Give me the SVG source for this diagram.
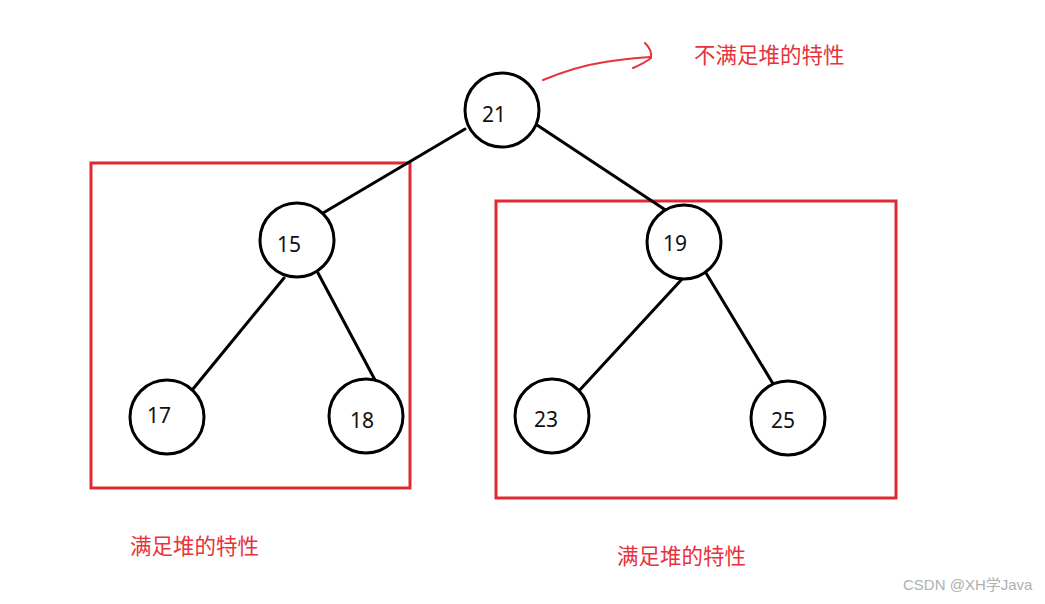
<svg xmlns="http://www.w3.org/2000/svg" width="1045" height="604" viewBox="0 0 1045 604">
<style>
.node circle{fill:#fff;stroke:#000;stroke-width:3}
.node text{font-family:"Noto Sans","Liberation Sans",sans-serif;font-size:21px;fill:#111}
.edge{stroke:#000;stroke-width:3;fill:none;stroke-linecap:round}
.box{fill:none;stroke:#e02a33;stroke-width:3}
.lbl{font-family:"Noto Sans CJK SC",sans-serif;font-size:21.5px;fill:#e8323c}
.wm{font-family:"Liberation Sans","Noto Sans CJK SC",sans-serif;font-size:15px;fill:#b0b0b0}
</style>
<rect width="1045" height="604" fill="#fff"/>
<g id="groups">
<rect class="box" x="91" y="163" width="319" height="325"/>
<rect class="box" x="496" y="201" width="400" height="297"/>
</g>
<g id="connectors">
<line class="edge" x1="465" y1="129" x2="323" y2="213"/>
<line class="edge" x1="537" y1="125" x2="667" y2="211"/>
<line class="edge" x1="284" y1="278" x2="193" y2="389"/>
<line class="edge" x1="318" y1="273" x2="375" y2="380"/>
<line class="edge" x1="683" y1="278" x2="577" y2="393"/>
<line class="edge" x1="706" y1="273" x2="775" y2="387"/>
<path d="M543,80 C560,73 585,65 605,62 C622,59 637,58 650,57" fill="none" stroke="#e8323c" stroke-width="2" stroke-linecap="round"/>
<path d="M645,43 C650,48 652,53 651,58 C646,62 640,65 633,68" fill="none" stroke="#e8323c" stroke-width="2" stroke-linecap="round"/>
</g>
<g id="n21" class="node"><circle cx="502" cy="110" r="37"/><text x="482" y="122">21</text></g>
<g id="n15" class="node"><circle cx="297" cy="240" r="37"/><text x="277" y="252">15</text></g>
<g id="n19" class="node"><circle cx="684" cy="242" r="37"/><text x="663" y="251">19</text></g>
<g id="n17" class="node"><circle cx="167" cy="417" r="37"/><text x="147" y="423">17</text></g>
<g id="n18" class="node"><circle cx="366" cy="416" r="37"/><text x="350" y="428">18</text></g>
<g id="n23" class="node"><circle cx="552" cy="416" r="37"/><text x="534" y="427">23</text></g>
<g id="n25" class="node"><circle cx="788" cy="418" r="37"/><text x="771" y="428">25</text></g>
<g id="labels">
<text class="lbl" x="694" y="63">不满足堆的特性</text>
<text class="lbl" x="130" y="554">满足堆的特性</text>
<text class="lbl" x="617" y="564">满足堆的特性</text>
<text class="wm" x="903" y="590">CSDN @XH学Java</text>
</g>
</svg>
